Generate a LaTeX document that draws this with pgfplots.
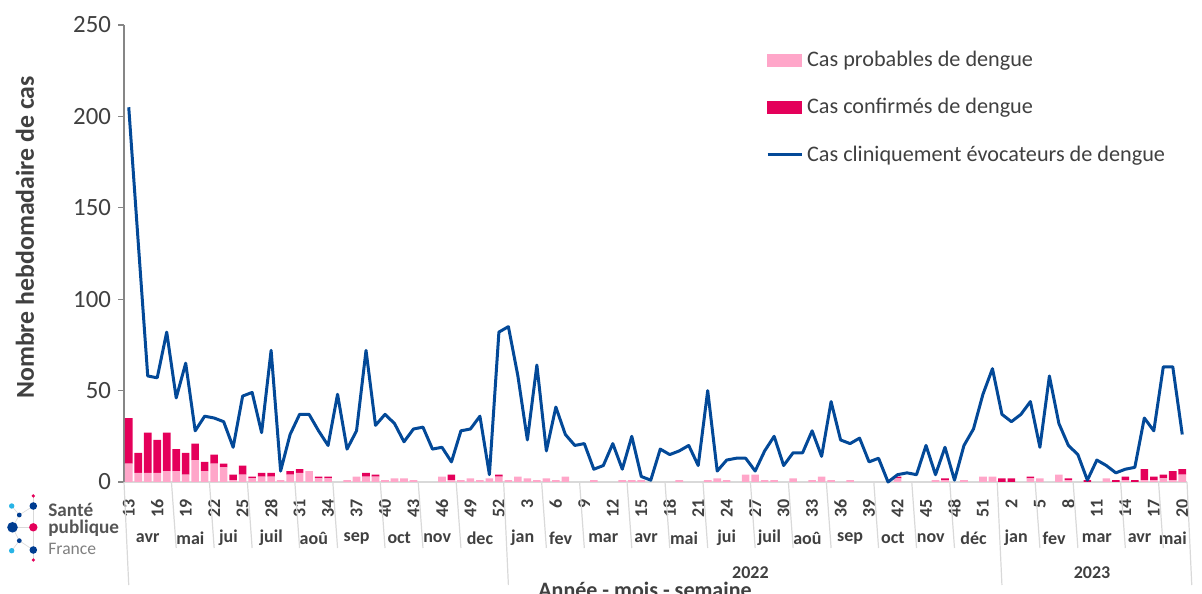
\documentclass[border=0pt]{standalone}
\usepackage{pgfplots}
\pgfplotsset{compat=1.18}
\usepackage{pgfplotstable}
\usepackage{fontspec}
\setmainfont{Carlito}
\definecolor{pinkc}{RGB}{255,166,201}
\definecolor{redc}{RGB}{228,0,90}
\definecolor{bluec}{RGB}{3,73,152}
\definecolor{txt}{RGB}{64,64,64}
\definecolor{sepc}{RGB}{217,217,217}
\definecolor{yax}{RGB}{134,134,134}
\definecolor{logocyan}{RGB}{40,180,230}
\definecolor{logoblue}{RGB}{0,61,145}
\definecolor{logogray}{RGB}{85,85,85}
\tikzset{mlab/.style={font=\fontsize{9}{10}\bfseries, text=txt, yshift=-28pt},
  ylab/.style={font=\fontsize{9}{10}\bfseries, text=txt, yshift=-45.5pt},
  msep/.style={sepc, line width=0.6pt}}

\pgfplotstableread{
x prob conf clin
0 10 25 205
1 5 11 131
2 5 22 58
3 5 18 57
4 6 21 82
5 6 12 46
6 4 12 65
7 12 9 28
8 6 5 36
9 10 5 35
10 8 2 33
11 1 3 19
12 4 5 47
13 2 1 49
14 3 2 27
15 3 2 72
16 1 0 6
17 4 2 26
18 5 2 37
19 6 0 37
20 2 1 28
21 2 1 20
22 0 0 48
23 1 0 18
24 3 0 28
25 3 2 72
26 3 1 31
27 1 0 37
28 2 0 32
29 2 0 22
30 1 0 29
31 0 0 30
32 0 0 18
33 3 0 19
34 1 3 11
35 1 0 28
36 2 0 29
37 1 0 36
38 2 0 4
39 3 1 82
40 1 0 85
41 3 0 58
42 2 0 23
43 1 0 64
44 2 0 17
45 1 0 41
46 3 0 26
47 0 0 20
48 0 0 21
49 1 0 7
50 0 0 9
51 0 0 21
52 1 0 7
53 1 0 25
54 1 0 3
55 0 0 1
56 0 0 18
57 0 0 15
58 1 0 17
59 0 0 20
60 0 0 9
61 1 0 50
62 2 0 6
63 1 0 12
64 0 0 13
65 4 0 13
66 4 0 6
67 1 0 17
68 1 0 25
69 0 0 9
70 2 0 16
71 0 0 16
72 1 0 28
73 3 0 14
74 1 0 44
75 0 0 23
76 1 0 21
77 0 0 24
78 0 0 11
79 0 0 13
80 0 0 0
81 2 1 4
82 0 0 5
83 0 0 4
84 0 0 20
85 1 0 4
86 1 1 19
87 0 0 1
88 1 0 20
89 0 0 29
90 3 0 48
91 3 0 62
92 0 2 37
93 0 2 33
94 0 0 37
95 2 1 44
96 2 0 19
97 0 0 58
98 4 0 32
99 1 1 20
100 0 0 15
101 0 1 1
102 0 0 12
103 2 0 9
104 0 1 5
105 1 2 7
106 0 1 8
107 1 6 35
108 1 2 28
109 2 2 63
110 1 5 63
111 4 3 26
}\data

\begin{document}
\begin{tikzpicture}[x=0.5pt,y=0.5pt]
\path[use as bounding box] (0,0) rectangle (1202,593);
\begin{axis}[
  at={(62pt,55.5pt)}, anchor=south west, scale only axis,
  width=531.5pt, height=228.5pt,
  xmin=-0.5, xmax=111.5, ymin=0, ymax=250,
  ybar stacked, bar width=0.8,
  clip=false,
  axis x line*=bottom, axis y line*=left,
  x axis line style={draw=sepc, line width=0.8pt, -},
  y axis line style={draw=yax, line width=0.6pt, -},
  ytick={0,50,100,150,200,250},
  yticklabels={0,50,100,150,200,250},
  ytick style={draw=yax, line width=0.6pt},
  tick align=outside, major tick length=3pt,
  yticklabel style={font=\fontsize{12.4}{14}\selectfont, text=txt},
  xtick={0,3,...,111},
  xticklabels={13,16,19,22,25,28,31,34,37,40,43,46,49,52,3,6,9,12,15,18,21,24,27,30,33,36,39,42,45,48,51,2,5,8,11,14,17,20},
  xtick style={draw=none},
  xticklabel style={yshift=-2pt, font=\fontsize{9}{10}\bfseries, text=txt, rotate=90, anchor=east},
]
\addplot[fill=pinkc, draw=none] table[x=x, y=prob] {\data};
\addplot[fill=redc, draw=none] table[x=x, y=conf] {\data};
\draw[msep] (axis cs:-0.5,0) -- ++(0,-51.5pt);
\draw[msep] (axis cs:39.5,0) -- ++(0,-51.5pt);
\draw[msep] (axis cs:91.5,0) -- ++(0,-51.5pt);
\draw[msep] (axis cs:111.5,0) -- ++(0,-51.5pt);
\draw[msep] (axis cs:4.5,0) -- ++(0,-33pt);
\draw[msep] (axis cs:8.5,0) -- ++(0,-33pt);
\draw[msep] (axis cs:12.5,0) -- ++(0,-33pt);
\draw[msep] (axis cs:17.5,0) -- ++(0,-33pt);
\draw[msep] (axis cs:21.5,0) -- ++(0,-33pt);
\draw[msep] (axis cs:26.5,0) -- ++(0,-33pt);
\draw[msep] (axis cs:30.5,0) -- ++(0,-33pt);
\draw[msep] (axis cs:34.5,0) -- ++(0,-33pt);
\draw[msep] (axis cs:43.5,0) -- ++(0,-33pt);
\draw[msep] (axis cs:47.5,0) -- ++(0,-33pt);
\draw[msep] (axis cs:52.5,0) -- ++(0,-33pt);
\draw[msep] (axis cs:56.5,0) -- ++(0,-33pt);
\draw[msep] (axis cs:60.5,0) -- ++(0,-33pt);
\draw[msep] (axis cs:65.5,0) -- ++(0,-33pt);
\draw[msep] (axis cs:69.5,0) -- ++(0,-33pt);
\draw[msep] (axis cs:73.5,0) -- ++(0,-33pt);
\draw[msep] (axis cs:78.5,0) -- ++(0,-33pt);
\draw[msep] (axis cs:82.5,0) -- ++(0,-33pt);
\draw[msep] (axis cs:86.5,0) -- ++(0,-33pt);
\draw[msep] (axis cs:95.5,0) -- ++(0,-33pt);
\draw[msep] (axis cs:99.5,0) -- ++(0,-33pt);
\draw[msep] (axis cs:104.5,0) -- ++(0,-33pt);
\draw[msep] (axis cs:108.5,0) -- ++(0,-33pt);
\node[mlab] at (axis cs:2,0) {avr};
\node[mlab] at (axis cs:6.5,0) {mai};
\node[mlab] at (axis cs:10.5,0) {jui};
\node[mlab] at (axis cs:15,0) {juil};
\node[mlab] at (axis cs:19.5,0) {aoû};
\node[mlab] at (axis cs:24,0) {sep};
\node[mlab] at (axis cs:28.5,0) {oct};
\node[mlab] at (axis cs:32.5,0) {nov};
\node[mlab] at (axis cs:37,0) {dec};
\node[mlab] at (axis cs:41.5,0) {jan};
\node[mlab] at (axis cs:45.5,0) {fev};
\node[mlab] at (axis cs:50,0) {mar};
\node[mlab] at (axis cs:54.5,0) {avr};
\node[mlab] at (axis cs:58.5,0) {mai};
\node[mlab] at (axis cs:63,0) {jui};
\node[mlab] at (axis cs:67.5,0) {juil};
\node[mlab] at (axis cs:71.5,0) {aoû};
\node[mlab] at (axis cs:76,0) {sep};
\node[mlab] at (axis cs:80.5,0) {oct};
\node[mlab] at (axis cs:84.5,0) {nov};
\node[mlab] at (axis cs:89,0) {déc};
\node[mlab] at (axis cs:93.5,0) {jan};
\node[mlab] at (axis cs:97.5,0) {fev};
\node[mlab] at (axis cs:102,0) {mar};
\node[mlab] at (axis cs:106.5,0) {avr};
\node[mlab] at (axis cs:110,0) {mai};
\node[ylab] at (axis cs:65.5,0) {2022};
\node[ylab] at (axis cs:101.5,0) {2023};
\end{axis}

\begin{axis}[
  at={(62pt,55.5pt)}, anchor=south west, scale only axis,
  width=531.5pt, height=228.5pt,
  xmin=-0.5, xmax=111.5, ymin=0, ymax=250,
  hide axis, clip=false,
  legend cell align=left,
  legend style={draw=none, fill=none, at={(0.598,0.962)}, anchor=north west,
    font=\fontsize{11.1}{13}\selectfont, text=txt, row sep=10.5pt},
]
\addlegendimage{legend image code/.code={\fill[pinkc] (0pt,-3pt) rectangle (17pt,3pt);}}
\addlegendentry{Cas probables de dengue}
\addlegendimage{legend image code/.code={\fill[redc] (0pt,-3pt) rectangle (17pt,3pt);}}
\addlegendentry{Cas confirmés de dengue}
\addplot[bluec, line width=1.5pt, line join=round, no marks,
  legend image code/.code={\draw[bluec, line width=1.5pt] (0pt,0pt) -- (17pt,0pt);}]
  table[x=x, y=clin] {\data};
\addlegendentry{Cas cliniquement évocateurs de dengue}
\end{axis}

\node[rotate=90, font=\fontsize{12.9}{15}\bfseries, text=txt] at (25,355.5) {Nombre hebdomadaire de cas};
\node[anchor=base, font=\fontsize{11}{13}\bfseries, text=txt] at (645,-4) {Année - mois - semaine};

\draw[sepc, line width=0.3pt] (12.5,65.7) -- (19.3,78) -- (33.3,87);
\draw[sepc, line width=0.3pt] (12.5,65.7) -- (33.3,65.7);
\draw[sepc, line width=0.3pt] (12.5,65.7) -- (19.3,52.3) -- (33.3,43);
\draw[sepc, line width=0.3pt] (19.3,78) -- (11.7,87);
\draw[sepc, line width=0.3pt] (19.3,52.3) -- (11.7,42.3);
\draw[sepc, line width=0.3pt] (33.3,97) -- (33.3,33);
\fill[logocyan] (11.7,87) circle (2.7);
\fill[logoblue] (33.3,87) circle (3.8);
\fill[logoblue] (19.3,78) circle (2.4);
\fill[logoblue] (12.5,65.7) circle (5.3);
\fill[redc] (33.3,65.7) circle (4.2);
\fill[logoblue] (19.3,52.3) circle (2.4);
\fill[logocyan] (11.7,42.3) circle (2.7);
\fill[logoblue] (33.3,43) circle (3.8);
\fill[redc] (33.3,97) circle (1.8);
\fill[redc] (33.3,33) circle (1.8);
\node[anchor=base west, inner sep=0pt, font=\fontsize{9.6}{11}\bfseries, text=logogray] at (48,76) {Santé};
\node[anchor=base west, inner sep=0pt, font=\fontsize{9.6}{11}\bfseries, text=logogray] at (48,59) {publique};
\node[anchor=base west, inner sep=0pt, font=\fontsize{8.8}{10}\selectfont, text=gray] at (48,39) {France};
\end{tikzpicture}
\end{document}
